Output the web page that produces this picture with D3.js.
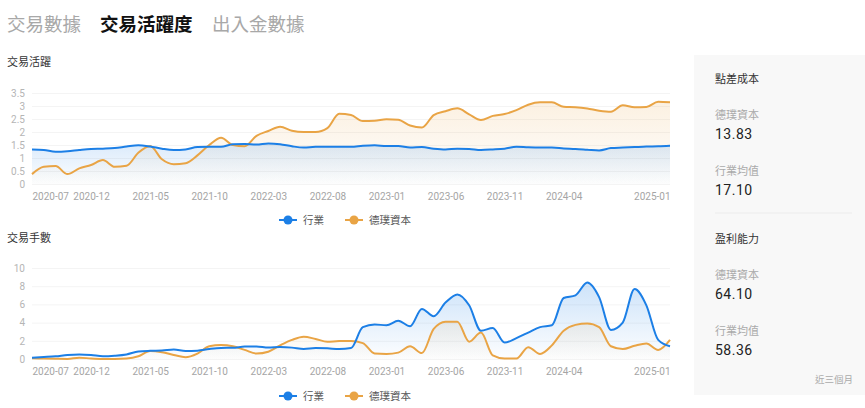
<!DOCTYPE html>
<html>
<head>
<meta charset="utf-8">
<script src="https://cdn.jsdelivr.net/npm/d3@7"></script>
<style>
  body { margin: 0; background: #fff; }
  svg { display: block; font-family: "Noto Sans CJK TC", "Noto Sans", sans-serif; }
</style>
</head>
<body>
<svg id="chart" width="865" height="408"></svg>
<script>
const months = ['2020-07','2020-08','2020-09','2020-10','2020-11','2020-12','2021-01','2021-02','2021-03','2021-04',
  '2021-05','2021-06','2021-07','2021-08','2021-09','2021-10','2021-11','2021-12','2022-01','2022-02',
  '2022-03','2022-04','2022-05','2022-06','2022-07','2022-08','2022-09','2022-10','2022-11','2022-12',
  '2023-01','2023-02','2023-03','2023-04','2023-05','2023-06','2023-07','2023-08','2023-09','2023-10',
  '2023-11','2023-12','2024-01','2024-02','2024-03','2024-04','2024-05','2024-06','2024-07','2024-08',
  '2024-09','2024-10','2024-11','2024-12','2025-01'];
const xTickLabels = ['2020-07','2020-12','2021-05','2021-10','2022-03','2022-08','2023-01','2023-06','2023-11','2024-04','2025-01'];

// 交易活躍
const activeIndustry = [1.33,1.31,1.24,1.26,1.31,1.35,1.36,1.38,1.44,1.49,1.44,1.36,1.31,1.33,1.42,1.43,1.43,1.53,1.54,1.52,
  1.56,1.53,1.45,1.40,1.43,1.43,1.43,1.43,1.47,1.49,1.46,1.46,1.40,1.42,1.36,1.33,1.36,1.35,1.31,1.33,
  1.36,1.43,1.41,1.40,1.40,1.37,1.35,1.32,1.29,1.38,1.40,1.42,1.44,1.45,1.47];
const activeDooprime = [0.38,0.66,0.69,0.38,0.60,0.73,0.92,0.66,0.70,1.20,1.46,0.95,0.76,0.80,1.10,1.50,1.78,1.50,1.45,1.85,
  2.04,2.20,2.05,2.00,2.00,2.15,2.70,2.65,2.42,2.43,2.49,2.47,2.25,2.17,2.65,2.80,2.91,2.68,2.46,2.62,
  2.69,2.84,3.05,3.14,3.14,2.97,2.95,2.90,2.82,2.78,3.03,2.95,2.96,3.16,3.14];
const activeTicks = [0,0.5,1,1.5,2,2.5,3,3.5];

// 交易手數
const lotsIndustry = [0.15,0.22,0.30,0.44,0.50,0.44,0.30,0.36,0.50,0.82,0.90,0.93,1.05,0.88,0.92,1.10,1.22,1.24,1.36,1.38,
  1.26,1.31,1.25,1.10,1.20,1.17,1.10,1.20,3.50,3.80,3.70,4.20,3.60,5.50,4.70,6.20,7.10,5.90,3.10,3.40,
  1.80,2.30,2.90,3.50,3.70,6.70,7.00,8.40,6.80,3.20,4.00,7.70,5.90,2.10,1.40];
const lotsDooprime = [0.07,0.05,0.02,0.00,0.15,0.05,0.00,0.00,0.05,0.30,0.88,0.75,0.45,0.20,0.60,1.40,1.53,1.40,1.00,0.60,
  0.80,1.50,2.10,2.45,2.20,1.90,1.97,1.97,1.75,0.60,0.55,0.70,1.40,0.65,3.30,4.10,4.10,1.90,2.90,0.40,
  0.05,0.05,1.30,0.55,1.50,3.10,3.75,3.90,3.50,1.40,1.10,1.45,1.70,1.00,2.10];
const lotsTicks = [0,2,4,6,8,10];

const seriesNames = ['行業','德璞資本'];
const seriesColors = ['#1c7fe6','#e9a445'];

const tabs = ['交易數據','交易活躍度','出入金數據'];
const panelRows = [
  {title: '點差成本', items: [['德璞資本','13.83'],['行業均值','17.10']]},
  {title: '盈利能力', items: [['德璞資本','64.10'],['行業均值','58.36']]}
];

const svg = d3.select('#chart');

// tabs
const tabX = [7, 100, 212];
svg.selectAll('text.tab').data(tabs).enter().append('text')
  .attr('class','tab')
  .attr('x', (d,i) => tabX[i]).attr('y', 31)
  .attr('font-size', 18.5)
  .attr('font-weight', (d,i) => i === 1 ? 700 : 400)
  .attr('fill', (d,i) => i === 1 ? '#111' : '#a8a8a8')
  .text(d => d);

const x = d3.scalePoint().domain(months).range([32, 670]);

function drawChart(cfg){
  const g = svg.append('g');
  const y = d3.scaleLinear().domain([0, cfg.max]).range([cfg.y0, cfg.y1]);

  g.append('text').attr('x', 7).attr('y', cfg.titleY)
    .attr('font-size', 11).attr('fill', '#333').text(cfg.title);

  // y axis + grid
  const yAxis = d3.axisLeft(y).tickValues(cfg.ticks).tickSize(-(670-32)).tickPadding(7)
    .tickFormat(d => d3.format('~g')(d));
  const yg = g.append('g').attr('transform','translate(32,0)').call(yAxis);
  yg.select('.domain').remove();
  yg.selectAll('line').attr('stroke', '#f4f4f4');
  yg.selectAll('text').attr('fill', '#b5b5b5').attr('font-size', 10)
    .attr('font-family', 'Roboto, sans-serif');

  // x axis
  const xAxis = d3.axisBottom(x).tickValues(xTickLabels).tickSize(0).tickPadding(9);
  const xg = g.append('g').attr('transform','translate(0,' + cfg.y0 + ')').call(xAxis);
  xg.select('.domain').remove();
  xg.selectAll('text').attr('fill', '#a5a5a5').attr('font-size', 10)
    .attr('font-family', 'Roboto, sans-serif')
    .attr('text-anchor', (d,i) => i === 0 ? 'start' : (i === xTickLabels.length-1 ? 'end' : 'middle'));

  // gradients
  const defs = svg.append('defs');
  seriesColors.forEach((c, k) => {
    const grad = defs.append('linearGradient').attr('id', cfg.id + 'g' + k)
      .attr('x1',0).attr('y1',0).attr('x2',0).attr('y2',1);
    grad.append('stop').attr('offset','0%').attr('stop-color', c).attr('stop-opacity', cfg.op[k]);
    grad.append('stop').attr('offset','100%').attr('stop-color', c).attr('stop-opacity', 0.01);
  });

  const curve = d3.curveMonotoneX;
  const order = cfg.order;
  order.forEach(k => {
    const vals = cfg.series[k];
    const area = d3.area().x((d,i) => x(months[i])).y0(cfg.y0).y1(d => y(d)).curve(curve);
    g.append('path').datum(vals).attr('d', area).attr('fill', 'url(#' + cfg.id + 'g' + k + ')');
  });
  order.forEach(k => {
    const vals = cfg.series[k];
    const line = d3.line().x((d,i) => x(months[i])).y(d => y(d)).curve(curve);
    g.append('path').datum(vals).attr('d', line).attr('fill','none')
      .attr('stroke', seriesColors[k]).attr('stroke-width', 2);
  });

  // legend
  const lg = g.append('g').attr('transform', 'translate(0,' + cfg.legendY + ')');
  const legX = [279, 345];
  seriesNames.forEach((n, k) => {
    lg.append('line').attr('x1', legX[k]).attr('x2', legX[k] + 18).attr('y1', 0).attr('y2', 0)
      .attr('stroke', seriesColors[k]).attr('stroke-width', 2);
    lg.append('circle').attr('cx', legX[k] + 9).attr('cy', 0).attr('r', 4.5).attr('fill', seriesColors[k]);
    lg.append('text').attr('x', legX[k] + 24).attr('y', 4).attr('font-size', 10.5).attr('fill', '#555').text(n);
  });
}

drawChart({id:'a', title:'交易活躍', titleY:66, max:3.5, ticks:activeTicks, y0:184, y1:93,
  series:[activeIndustry, activeDooprime], order:[1,0], op:[0.16,0.16], legendY:220});
drawChart({id:'b', title:'交易手數', titleY:242, max:10, ticks:lotsTicks, y0:359, y1:268,
  series:[lotsIndustry, lotsDooprime], order:[1,0], op:[0.22,0.12], legendY:396});

// right panel
const panel = svg.append('g');
panel.append('rect').attr('x', 694).attr('y', 55).attr('width', 171).attr('height', 340).attr('fill', '#f8f8f8');
const blockY = [83, 243];
panelRows.forEach((b, bi) => {
  const by = blockY[bi];
  panel.append('text').attr('x', 715).attr('y', by).attr('font-size', 11).attr('fill', '#333').text(b.title);
  b.items.forEach((it, ii) => {
    const iy = by + 36 + ii * 56;
    panel.append('text').attr('x', 715).attr('y', iy).attr('font-size', 11).attr('fill', '#aaa').text(it[0]);
    panel.append('text').attr('x', 715).attr('y', iy + 20).attr('font-size', 14)
      .attr('font-family', 'Roboto, sans-serif').attr('letter-spacing', 0.5).attr('fill', '#222').text(it[1]);
  });
});
panel.append('line').attr('x1', 715).attr('x2', 852).attr('y1', 213).attr('y2', 213).attr('stroke', '#ececec');
panel.append('text').attr('x', 853).attr('y', 383).attr('text-anchor','end').attr('font-size', 9.5)
  .attr('fill', '#aaa').text('近三個月');
</script>
</body>
</html>
